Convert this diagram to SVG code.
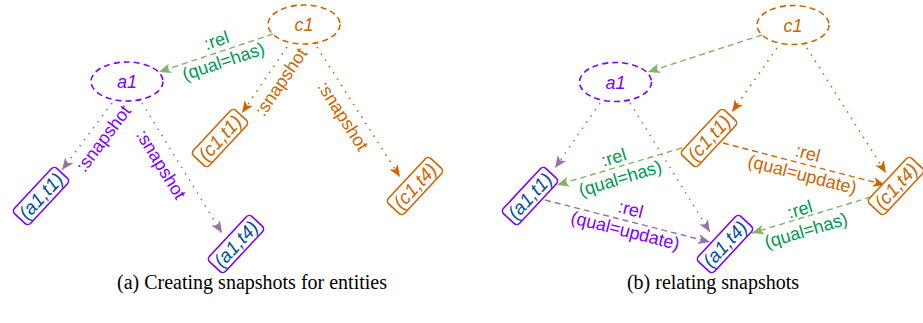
<svg xmlns="http://www.w3.org/2000/svg" width="923" height="323" viewBox="0 0 923 323">
<defs>
<marker id="mp" markerUnits="userSpaceOnUse" markerWidth="13" markerHeight="11" refX="12" refY="5" orient="auto"><path d="M0,0 L12,5 L0,10 L3,5 z" fill="#9673a6"/></marker>
<marker id="mo" markerUnits="userSpaceOnUse" markerWidth="13" markerHeight="11" refX="12" refY="5" orient="auto"><path d="M0,0 L12,5 L0,10 L3,5 z" fill="#cc6600"/></marker>
<marker id="mg" markerUnits="userSpaceOnUse" markerWidth="13" markerHeight="11" refX="12" refY="5" orient="auto"><path d="M0,0 L12,5 L0,10 L3,5 z" fill="#82b366"/></marker>
</defs>
<style>
text{font-family:"Liberation Sans",Arial,sans-serif;font-size:18px;text-anchor:middle}
.it{font-style:italic}
.bx{font-size:19px}
.ell{fill:none;stroke-width:1.6;stroke-dasharray:6 4}
.box{fill:#fff;stroke-width:1.6}
.dot{fill:none;stroke-width:1.6;stroke-dasharray:1.5 6}
.dash{fill:none;stroke-width:1.4;stroke-dasharray:6 4}
.pl{stroke:#9673a6;marker-end:url(#mp)}
.ol{stroke:#cc6600;marker-end:url(#mo)}
.gl{stroke:#82b366;marker-end:url(#mg)}
.pt{fill:#7f00ff}
.ot{fill:#cc6600}
.gt{fill:#009950}
.bt{fill:#0050a0}
.cap{font-family:"Liberation Serif","Times New Roman",serif;font-size:20px;fill:#000}
</style>
<g id="connectors">
<!-- left panel -->
<path class="dash gl" d="M273,34 L159,72"/>
<path class="dot pl" d="M112,103 L62,170"/>
<path class="dot pl" d="M142,103 L222,233"/>
<path class="dot ol" d="M287,47 L242,113"/>
<path class="dot ol" d="M317,47 L400,177"/>
<g transform="translate(220,51) rotate(-18.4)"><text class="gt" y="-5">:rel</text><text class="gt" y="17">(qual=has)</text></g>
<text class="pt" transform="translate(103.5,138.5) rotate(-53)" y="6">:snapshot</text>
<text class="pt" transform="translate(161,164.5) rotate(58.4)" y="6">:snapshot</text>
<text class="ot" transform="translate(281,82) rotate(-55.7)" y="6">:snapshot</text>
<text class="ot" transform="translate(343,116) rotate(57.4)" y="6">:snapshot</text>
<!-- right panel -->
<path class="dash gl" d="M762,35 L648,72"/>
<path class="dot pl" d="M600,103 L555,168"/>
<path class="dot pl" d="M630,103 L710,232"/>
<path class="dot ol" d="M777,48 L732,112"/>
<path class="dot ol" d="M807,48 L886,173"/>
<path class="dash gl" d="M682,148 L557,185"/>
<path class="dash ol" d="M723,143 L885,185"/>
<path class="dash pl" d="M545,200 L710,242"/>
<path class="dash gl" d="M871,197 L752,233"/>
<g transform="translate(617,168) rotate(-17)"><text class="gt" y="-5">:rel</text><text class="gt" y="17">(qual=has)</text></g>
<g transform="translate(805,164) rotate(14.4)"><text class="ot" y="-5">:rel</text><text class="ot" y="17">(qual=update)</text></g>
<g transform="translate(628,220) rotate(14.3)"><text class="pt" y="-5">:rel</text><text class="pt" y="17">(qual=update)</text></g>
<g transform="translate(803,220) rotate(-16.6)"><text class="gt" y="-5">:rel</text><text class="gt" y="17">(qual=has)</text></g>
</g>
<!-- left panel nodes -->
<g id="c1-a"><ellipse class="ell" cx="304" cy="24.5" rx="36" ry="19.5" stroke="#cc6600"/><text class="it ot" x="304" y="31">c1</text></g>
<g id="a1-a"><ellipse class="ell" cx="127" cy="81.5" rx="36" ry="19.5" stroke="#7f00ff"/><text class="it pt" x="127" y="88">a1</text></g>
<g id="a1t1-a" transform="translate(41,196) rotate(-47)"><rect class="box" x="-31" y="-11" width="62" height="22" rx="4" stroke="#7f00ff"/><text class="it bt bx" y="6.5">(a1,t1)</text></g>
<g id="a1t4-a" transform="translate(236,244) rotate(-47)"><rect class="box" x="-31" y="-11" width="62" height="22" rx="4" stroke="#7f00ff"/><text class="it bt bx" y="6.5">(a1,t4)</text></g>
<g id="c1t1-a" transform="translate(220,138) rotate(-47)"><rect class="box" x="-31" y="-11" width="62" height="22" rx="4" stroke="#cc6600"/><text class="it ot bx" y="6.5">(c1,t1)</text></g>
<g id="c1t4-a" transform="translate(415,186) rotate(-47)"><rect class="box" x="-31" y="-11" width="62" height="22" rx="4" stroke="#cc6600"/><text class="it ot bx" y="6.5">(c1,t4)</text></g>
<!-- right panel nodes -->
<g id="c1-b"><ellipse class="ell" cx="793" cy="25" rx="36" ry="19.5" stroke="#cc6600"/><text class="it ot" x="793" y="31.5">c1</text></g>
<g id="a1-b"><ellipse class="ell" cx="615.5" cy="82" rx="36" ry="19.5" stroke="#7f00ff"/><text class="it pt" x="615.5" y="88.5">a1</text></g>
<g id="a1t1-b" transform="translate(530,196) rotate(-47)"><rect class="box" x="-31" y="-11" width="62" height="22" rx="4" stroke="#7f00ff"/><text class="it bt bx" y="6.5">(a1,t1)</text></g>
<g id="a1t4-b" transform="translate(725,244) rotate(-47)"><rect class="box" x="-31" y="-11" width="62" height="22" rx="4" stroke="#7f00ff"/><text class="it bt bx" y="6.5">(a1,t4)</text></g>
<g id="c1t1-b" transform="translate(709,138) rotate(-47)"><rect class="box" x="-31" y="-11" width="62" height="22" rx="4" stroke="#cc6600"/><text class="it ot bx" y="6.5">(c1,t1)</text></g>
<g id="c1t4-b" transform="translate(896,186) rotate(-47)"><rect class="box" x="-31" y="-11" width="62" height="22" rx="4" stroke="#cc6600"/><text class="it ot bx" y="6.5">(c1,t4)</text></g>
<text class="cap" x="252" y="289">(a) Creating snapshots for entities</text>
<text class="cap" x="713" y="289">(b) relating snapshots</text>
</svg>
